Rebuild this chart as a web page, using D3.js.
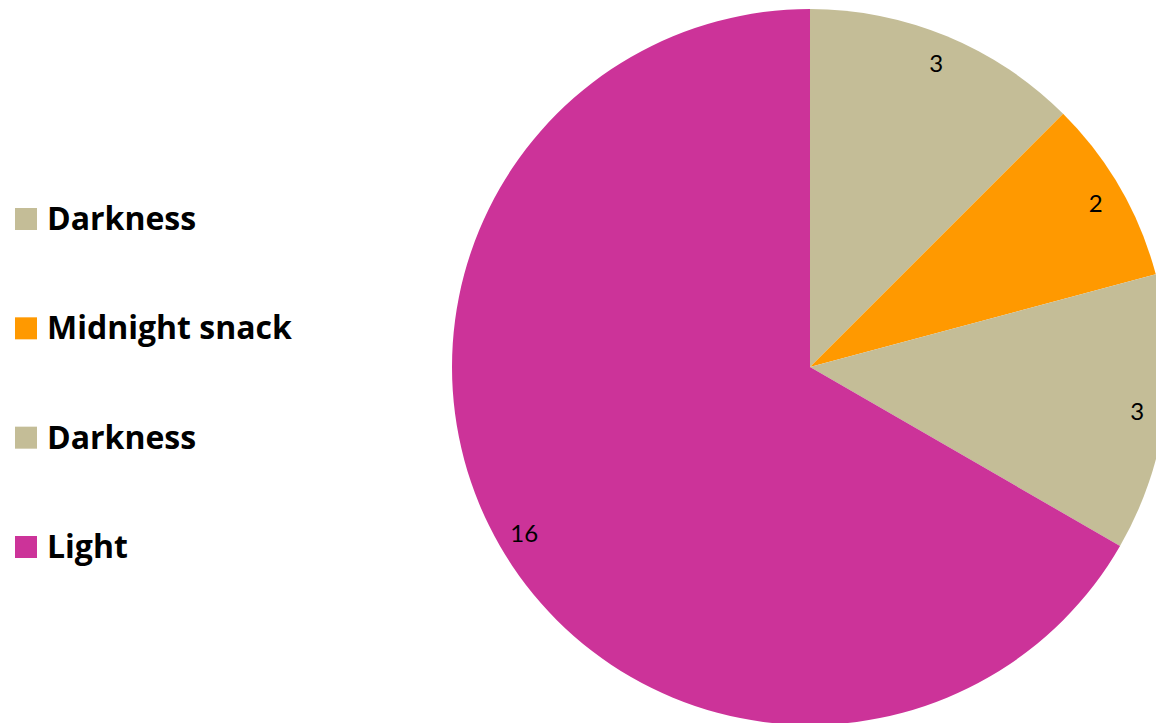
<!DOCTYPE html>
<html><head><meta charset="utf-8">
<script src="https://cdn.jsdelivr.net/npm/d3@7"></script>
<style>html,body{margin:0;padding:0;background:#fff;overflow:hidden}</style>
</head><body>
<svg id="chart" width="1156" height="723"></svg>
<script>
const categories = ["Darkness", "Midnight snack", "Darkness", "Light"];
const values = [3, 2, 3, 16];
const colors = ["#C4BD97", "#FF9900", "#C4BD97", "#CC3399"];

const svg = d3.select("#chart");
const cx = 810, cy = 367, R = 358, labelR = 330;

const pie = d3.pie().sort(null).value(d => d)(values);
const arc = d3.arc().innerRadius(0).outerRadius(R);
const labelArc = d3.arc().innerRadius(labelR).outerRadius(labelR);

const g = svg.append("g").attr("transform", `translate(${cx},${cy})`);
g.selectAll("path").data(pie).join("path")
  .attr("d", arc)
  .attr("fill", (d, i) => colors[i]);

g.selectAll("text").data(pie).join("text")
  .attr("transform", d => `translate(${labelArc.centroid(d)})`)
  .attr("text-anchor", "middle")
  .attr("dominant-baseline", "central")
  .attr("font-family", "Lato, sans-serif")
  .attr("font-size", 24)
  .attr("fill", "#000")
  .text(d => d.data);

const legendY = d3.scalePoint().domain(d3.range(categories.length)).range([219, 547]);
const lg = svg.append("g");
const item = lg.selectAll("g").data(categories).join("g")
  .attr("transform", (d, i) => `translate(15,${legendY(i)})`);
item.append("rect").attr("x", 0).attr("y", -11).attr("width", 22).attr("height", 22)
  .attr("fill", (d, i) => colors[i]);
item.append("text").attr("x", 32).attr("y", 11)
  .attr("font-family", "'Open Sans', sans-serif").attr("font-weight", "bold")
  .attr("font-size", 32).attr("fill", "#000")
  .text(d => d);
</script>
</body></html>
